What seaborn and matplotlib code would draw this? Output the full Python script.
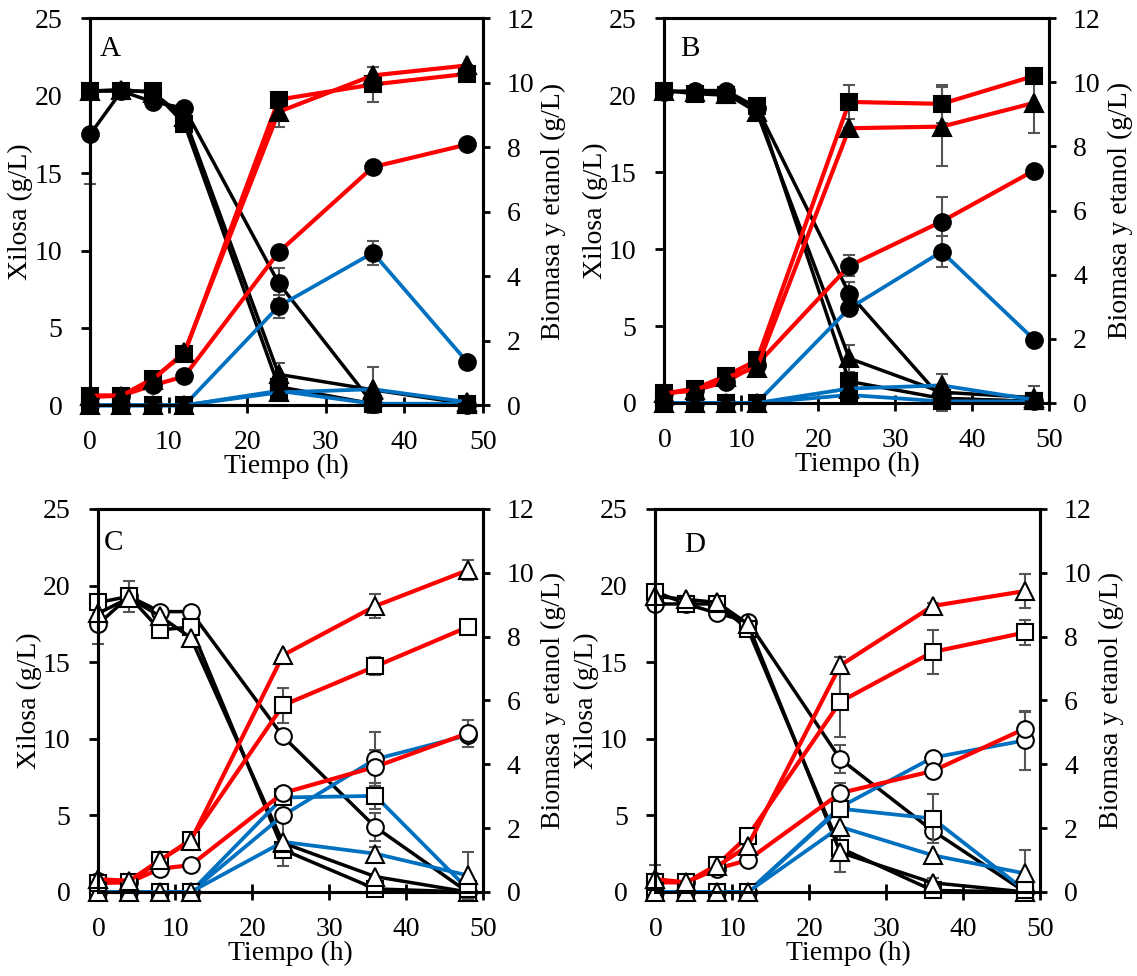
import matplotlib
matplotlib.use('Agg')
import matplotlib.pyplot as plt
import seaborn as sns

sns.set_theme(style='ticks')
plt.rcParams['font.family'] = ['Liberation Serif', 'DejaVu Serif']
plt.rcParams['font.size'] = 20
plt.rcParams['text.color'] = 'black'
plt.rcParams['axes.labelcolor'] = 'black'
plt.rcParams['xtick.color'] = 'black'
plt.rcParams['ytick.color'] = 'black'

# ---------------- data ----------------
TIME = [0, 4, 8, 12, 24, 36, 48]
X_TICKS = [0, 10, 20, 30, 40, 50]
Y_LEFT_TICKS = [0, 5, 10, 15, 20, 25]
Y_RIGHT_TICKS = [0, 2, 4, 6, 8, 10, 12]
PANEL_LABELS = ['A', 'B', 'C', 'D']
X_LABEL = 'Tiempo (h)'
Y_LEFT_LABEL = 'Xilosa (g/L)'
Y_RIGHT_LABEL = 'Biomasa y etanol (g/L)'

# order within each panel list: circle, square, triangle
XYL_A = [[17.5, 20.3, 19.6, 19.2, 7.9, 0.1, 0.0],
         [20.3, 20.3, 20.3, 18.2, 1.2, 0.1, 0.0],
         [20.3, 20.4, 20.2, 18.6, 2.0, 1.0, 0.1]]
XYL_A_ERR = [[3.2, 0, 0, 0, 1.0, 0, 0],
             [0, 0, 0, 0, 0.75, 0, 0],
             [0, 0.2, 0, 0, 0.75, 1.5, 0]]
RED_A = [[0.26, 0.3, 0.62, 0.9, 4.75, 7.39, 8.09],
         [0.3, 0.3, 0.83, 1.6, 9.48, 9.95, 10.28],
         [0.3, 0.3, 0.8, 1.65, 9.1, 10.23, 10.54]]
RED_A_ERR = [[0, 0, 0, 0, 0, 0, 0],
             [0, 0, 0, 0, 0, 0.55, 0],
             [0, 0, 0, 0, 0.47, 0.26, 0]]
BLUE_A = [[0, 0, 0, 0, 3.07, 4.73, 1.34],
          [0, 0, 0, 0, 0.45, 0.05, 0.05],
          [0, 0, 0, 0, 0.4, 0.5, 0.1]]
BLUE_A_ERR = [[0, 0, 0, 0, 0.36, 0.38, 0],
              [0, 0, 0, 0, 0, 0, 0],
              [0, 0, 0, 0, 0, 0, 0]]

XYL_B = [[20.2, 20.3, 20.3, 19.2, 7.1, 0.3, 0.1],
         [20.3, 20.1, 20.0, 19.3, 1.4, 0.3, 0.1],
         [20.3, 20.2, 20.1, 18.9, 2.9, 0.7, 0.35]]
XYL_B_ERR = [[0, 0, 0, 0, 0.76, 0, 0],
             [0, 0, 0, 0, 0, 0, 0],
             [0, 0, 0, 0, 0.87, 1.2, 0.75]]
RED_B = [[0.3, 0.4, 0.66, 1.2, 4.28, 5.66, 7.25],
         [0.3, 0.45, 0.85, 1.33, 9.39, 9.33, 10.2],
         [0.3, 0.4, 0.8, 1.1, 8.57, 8.62, 9.36]]
RED_B_ERR = [[0, 0, 0, 0, 0.33, 0.78, 0],
             [0, 0, 0, 0, 0.54, 0.6, 0],
             [0, 0, 0, 0, 0, 1.23, 0.94]]
BLUE_B = [[0, 0, 0, 0, 2.95, 4.72, 1.98],
          [0, 0, 0, 0, 0.25, 0.05, 0.05],
          [0, 0, 0, 0, 0.45, 0.55, 0.1]]
BLUE_B_ERR = [[0, 0, 0, 0, 0, 0.48, 0],
              [0, 0, 0, 0, 0, 0, 0],
              [0, 0, 0, 0, 0, 0, 0]]

XYL_C = [[17.5, 19.3, 18.3, 18.3, 10.15, 4.24, 0.0],
         [18.9, 19.3, 17.1, 17.3, 2.76, 0.2, 0.0],
         [18.2, 19.2, 18.0, 16.6, 3.2, 1.0, 0.0]]
XYL_C_ERR = [[1.3, 0, 0, 0, 0, 0.9, 0],
             [0, 1.0, 0, 0, 0, 0, 0],
             [0, 0, 0, 0.3, 1.5, 0, 0]]
RED_C = [[0.35, 0.3, 0.73, 0.84, 3.1, 3.92, 4.97],
         [0.28, 0.3, 0.99, 1.64, 5.85, 7.07, 8.3],
         [0.4, 0.35, 1.0, 1.6, 7.42, 8.96, 10.08]]
RED_C_ERR = [[0, 0, 0, 0.2, 0, 0.52, 0.42],
             [0, 0, 0, 0, 0.55, 0.28, 0],
             [0, 0, 0, 0, 0, 0.39, 0.31]]
BLUE_C = [[0, 0, 0, 0, 2.4, 4.16, 4.91],
          [0, 0, 0, 0, 2.96, 3.01, 0.1],
          [0, 0, 0, 0, 1.57, 1.2, 0.52]]
BLUE_C_ERR = [[0, 0, 0, 0, 0, 0.84, 0],
              [0, 0, 0, 0, 0, 0.4, 0],
              [0, 0, 0, 0, 0, 0.2, 0.73]]

XYL_D = [[18.8, 18.8, 18.2, 17.65, 8.68, 4.0, 0.0],
         [19.6, 18.8, 18.8, 17.15, 2.87, 0.1, 0.0],
         [19.3, 19.1, 18.9, 17.5, 2.58, 0.6, 0.0]]
XYL_D_ERR = [[0, 0, 0, 0, 0.9, 0, 0],
             [0, 0, 0, 0, 0, 0, 0],
             [0, 0.2, 0.2, 0, 1.3, 0.3, 0]]
RED_D = [[0.35, 0.3, 0.73, 1.0, 3.1, 3.79, 5.12],
         [0.3, 0.3, 0.85, 1.75, 5.96, 7.52, 8.13],
         [0.4, 0.3, 0.8, 1.45, 7.1, 8.96, 9.43]]
RED_D_ERR = [[0, 0, 0, 0, 0.3, 0, 0.52],
             [0, 0, 0, 0, 1.1, 0.7, 0.39],
             [0.45, 0, 0, 0, 0.26, 0.1, 0.53]]
BLUE_D = [[0, 0, 0, 0, 2.66, 4.21, 4.75],
          [0, 0, 0, 0, 2.61, 2.3, 0.05],
          [0, 0, 0, 0, 2.04, 1.15, 0.58]]
BLUE_D_ERR = [[0, 0, 0, 0, 0, 0, 0.92],
              [0, 0, 0, 0, 0, 0.78, 0],
              [0, 0, 0, 0, 0.3, 0, 0.75]]

# ---------------- style ----------------
MARKERS = ['o', 's', '^']
MSIZES = [12, 12, 13]
BLACK = '#000000'
RED = '#FF0000'
BLUE = '#0070C0'
ERRC = '#555555'

fig = plt.figure(figsize=(11.37, 9.76), dpi=100)
fig.patch.set_facecolor('white')

POS = [[0.0792, 0.5847, 0.3456, 0.3965],
       [0.5844, 0.5871, 0.3386, 0.3942],
       [0.0866, 0.0861, 0.3382, 0.3924],
       [0.5765, 0.0861, 0.3386, 0.3924]]
LETTER_XY = [(0.025, 0.955), (0.040, 0.955), (0.014, 0.945), (0.075, 0.940)]


def add_series(ax, vals, errs, color, marker, ms, filled, lw):
    eb = ax.errorbar(TIME, vals, yerr=errs, fmt='none', ecolor=ERRC,
                     elinewidth=1.5, capsize=4, capthick=1.5, zorder=1.5)
    for art in list(eb.lines[1]) + list(eb.lines[2]):
        art.set_clip_on(False)
    sns.lineplot(x=TIME, y=vals, ax=ax, color=color, linewidth=lw,
                 marker=marker, markersize=ms,
                 markerfacecolor=BLACK if filled else 'white',
                 markeredgecolor=BLACK, markeredgewidth=1.5,
                 errorbar=None, legend=False, clip_on=False, zorder=2)


def panel(i, xyl, xyl_e, red, red_e, blue, blue_e, filled):
    ax = fig.add_axes(POS[i])
    ax2 = ax.twinx()
    for k in range(3):
        add_series(ax, xyl[k], xyl_e[k], BLACK, MARKERS[k], MSIZES[k], filled, 2.5)
    for k in range(3):
        add_series(ax2, blue[k], blue_e[k], BLUE, MARKERS[k], MSIZES[k], filled, 2.7)
    for k in range(3):
        add_series(ax2, red[k], red_e[k], RED, MARKERS[k], MSIZES[k], filled, 3.0)

    ax.set_xlim(0, 50)
    ax.set_ylim(0, 25)
    ax2.set_ylim(0, 12)
    ax.set_xticks(X_TICKS)
    ax.set_yticks(Y_LEFT_TICKS)
    ax2.set_yticks(Y_RIGHT_TICKS)
    ax.tick_params(axis='x', direction='inout', length=11, width=2, pad=12.5,
                   labelsize=20, colors='black')
    ax.tick_params(axis='y', direction='out', length=6.5, width=2, pad=13.5,
                   labelsize=20, colors='black')
    ax2.tick_params(axis='y', direction='out', length=5, width=2, pad=12,
                    labelsize=20, colors='black')
    for a in (ax, ax2):
        for s in a.spines.values():
            s.set_linewidth(2.2)
            s.set_color('black')
            s.set_visible(True)
        a.set_facecolor('none')
    ax.set_xlabel(X_LABEL, fontsize=20, labelpad=-1, color='black')
    ax.set_ylabel(Y_LEFT_LABEL, fontsize=20, labelpad=1, color='black')
    ax2.set_ylabel(Y_RIGHT_LABEL, fontsize=20, labelpad=5, color='black')
    ax2.text(LETTER_XY[i][0], LETTER_XY[i][1], PANEL_LABELS[i],
             transform=ax.transAxes, fontsize=21, ha='left', va='top',
             color='black')


panel(0, XYL_A, XYL_A_ERR, RED_A, RED_A_ERR, BLUE_A, BLUE_A_ERR, True)
panel(1, XYL_B, XYL_B_ERR, RED_B, RED_B_ERR, BLUE_B, BLUE_B_ERR, True)
panel(2, XYL_C, XYL_C_ERR, RED_C, RED_C_ERR, BLUE_C, BLUE_C_ERR, False)
panel(3, XYL_D, XYL_D_ERR, RED_D, RED_D_ERR, BLUE_D, BLUE_D_ERR, False)

fig.savefig('out.png', dpi=100, facecolor='white')
